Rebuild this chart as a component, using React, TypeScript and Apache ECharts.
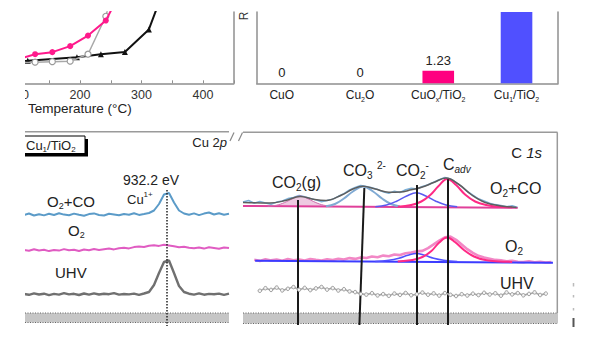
import React, { useEffect, useRef } from 'react';
import * as echarts from 'echarts';

const FONT = '"Liberation Sans", Arial, Helvetica, sans-serif';

// ---------- top-left: conversion vs temperature ----------
const tempPink = [96, 127, 155, 184, 213, 242, 270];
const convPink = [33, 40.8, 43.7, 52.1, 66.9, 88, 135];
const tempGray = [96, 127, 155, 184, 213, 242, 265];
const convGray = [29, 29.6, 30.3, 31, 40.8, 94, 170];
const tempBlack = [85, 115, 195, 234, 273, 312, 340];
const convBlack = [30.5, 31.5, 36.4, 40.8, 44, 75.6, 140];

// ---------- top-right: bars ----------
const barCategories = ['CuO', 'Cu2O', 'CuOx/TiO2', 'Cu1/TiO2'];
const barValues = [0, 0, 1.23, 12];
const barColors = ['#ff0080', '#ff0080', '#ff0080', '#5050ff'];

// ---------- bottom-left: Cu 2p ----------
const eCu = [946.5, 946.0, 945.5, 945.0, 944.5, 944.0, 943.5, 943.0, 942.5, 942.0, 941.5, 941.0, 940.5, 940.0,
  939.5, 939.0, 938.5, 938.0, 937.5, 937.0, 936.5, 936.0, 935.5, 935.0, 934.5, 934.0, 933.5, 933.0, 932.5, 932.0,
  931.5, 931.0, 930.5, 930.0, 929.5, 929.0, 928.5, 928.0, 927.5, 927.0, 926.5, 926.0];
const cuO2CO = [111, 112.5, 110.5, 111.8, 110.6, 112.2, 111, 112.8, 111.4, 110.8, 112.4, 111.2, 110.2, 111.9,
  112.6, 111, 110.5, 112.3, 111.5, 110.7, 112, 111.3, 112.8, 111.1, 112, 113, 115.5, 122, 131.5, 133,
  123.5, 115.5, 112.5, 111.2, 112.6, 110.9, 112.4, 113.5, 111.5, 112.8, 111.3, 112.2];
const cuO2 = [76, 75.2, 76.8, 75.5, 76.3, 74.9, 76, 75.4, 76.9, 75.7, 76.2, 75, 76.5, 75.8,
  76.9, 76.1, 76.8, 77.4, 76.6, 77.8, 78.3, 77.6, 78.9, 79.6, 79.1, 80.2, 80.8, 80.1, 81.3, 80.6,
  79.7, 78.8, 79.3, 78.2, 77.7, 78.5, 77.4, 78.7, 78, 77.3, 78.5, 77.9];
const cuUHV = [32, 31.2, 32.6, 31.5, 32.3, 30.9, 32.1, 31.4, 32.8, 31.6, 32.2, 31, 32.5, 31.3,
  32.7, 31.5, 32.3, 31.8, 32.9, 31.4, 32, 31.6, 32.4, 31.2, 32.5, 34, 41, 53, 64, 65.5,
  53, 40, 34, 32.3, 31.4, 32.6, 31.3, 32.1, 31.7, 32.4, 31.2, 32.3];
const cuPeakEV = 932.2;

// ---------- bottom-right: C 1s ----------
const eC = [294, 293.75, 293.5, 293.25, 293, 292.75, 292.5, 292.25, 292, 291.75, 291.5, 291.25, 291, 290.75,
  290.5, 290.25, 290, 289.75, 289.5, 289.25, 289, 288.75, 288.5, 288.25, 288, 287.75, 287.5, 287.25, 287,
  286.75, 286.5, 286.25, 286, 285.75, 285.5, 285.25, 285, 284.75, 284.5, 284.25, 284, 283.75, 283.5, 283.25,
  283, 282.75, 282.5, 282.25, 282, 281.75, 281.5, 281.25, 281, 280.75, 280.5, 280.25, 280];
const cRawO2CO = [124, 125.5, 122.8, 124.6, 123, 121.8, 123.9, 125, 127.4, 128.6, 130.5, 129.2, 127.6, 126.1,
  124.3, 125.5, 126.8, 129.7, 132.4, 136, 138.5, 140.6, 139.4, 138.2, 136.5, 134.1, 132.6, 134.8, 133.5,
  136.2, 137.8, 137, 139.5, 141.2, 143.8, 146.2, 148.5, 147, 143.5, 139.5, 134.6, 130.8, 127.2, 125.1,
  122.9, 121.4, 120.6, 119.2, 120.3, 118.6, null, null, null, null, null, null, null];
const cRawO2 = [null, null, 66.2, 65.1, 66.8, 65.6, 66.4, 65.3, 66.9, 65.8, 66.5, 65.4, 67, 66.1,
  65.5, 66.8, 66, 67.2, 66.4, 67.9, 67.1, 68.6, 68, 69.5, 68.8, 70.4, 69.7, 71.5, 70.9,
  72.8, 73.5, 74.6, 75.1, 77.9, 81.6, 85.4, 88.6, 89.4, 86.2, 81.5, 76.8, 73.1, 70.2, 68.4,
  67.3, 66.1, 65.6, 64.8, 65.2, 64.1, 63.9, 64.6, 63.7, 64.2, 63.5, 63.9, null];
const cUHV = [null, null, null, 35.2, 37.8, 36.1, 38.4, 35.6, 37.2, 38.9, 36.3, 38.1, 35.9, 37.6,
  39, 36.4, 37.9, 35.5, 36.8, 34.6, 33.9, 32.1, 31.4, 32.8, 30.6, 31.9, 30.2, 32.4, 31.1,
  33, 30.8, 31.7, 33.4, 31.3, 32.6, 30.4, 32.9, 31.2, 30, 31.8, 30.5, 32.3, 30.9, 33.2,
  31.5, 32.7, 30.3, 33.5, 31.6, 32.9, 30.7, 32.1, 33.6, 31, 32.4, null, null];

// fitted components, O2+CO
const baseCoE = [294, 281.75];
const baseCoV = [120, 118.3];
const co2gE = [292.9, 292.5, 292.15, 291.8, 291.46, 291.1, 290.75, 290.4, 290.0];
const co2gV = [119.7, 120.8, 123.4, 127.2, 130, 127.2, 123.4, 120.8, 119.7];
const co3E = [290.3, 289.9, 289.5, 289.1, 288.65, 288.2, 287.8, 287.4, 287.0];
const co3V = [119.8, 122, 127.5, 134.5, 139.5, 134.5, 127.5, 122, 119.5];
const co2mE = [288.1, 287.6, 287.15, 286.7, 286.27, 285.85, 285.4, 284.95, 284.45];
const co2mV = [119.3, 121, 124.8, 130, 133.3, 130, 124.8, 121, 119.2];
const cadvE = [287.1, 286.5, 286.05, 285.65, 285.28, 284.9, 284.5, 284.1, 283.65, 283.15, 282.6, 282.0];
const cadvV = [119.3, 121, 124.5, 131, 140, 147, 141, 131.5, 124.5, 121, 119.3, 118.7];
const envE = [294, 292.8, 292.1, 291.45, 290.8, 290.3, 289.6, 289.1, 288.65, 288.1, 287.5, 287.0, 286.5,
  286.0, 285.5, 284.95, 284.4, 283.8, 283.2, 282.5, 281.8];
const envV = [123.5, 123, 125.5, 129.5, 126.5, 125.5, 131, 137, 139.8, 137, 133.8, 134, 136.2,
  139, 143.5, 148, 142, 131, 123.5, 120, 118.6];
// fitted components, O2
const baseO2E = [293.46, 280.18];
const baseO2V = [65.3, 63.3];
const o2co2mE = [288.1, 287.5, 287.05, 286.65, 286.27, 285.9, 285.5, 285.05, 284.45];
const o2co2mV = [64.6, 65.8, 67.8, 70.7, 72.6, 70.7, 67.8, 65.8, 64.4];
const o2cadvE = [287.1, 286.45, 286.0, 285.6, 285.25, 284.9, 284.55, 284.15, 283.7, 283.2, 282.6, 282.0];
const o2cadvV = [64.6, 66, 69, 75, 83.5, 88.5, 84, 76, 69.5, 66, 64.6, 64.1];
// annotation lines [E top, value top, E bottom, value bottom]
const peakLines = [
  [291.57, 126, 291.57, 1],
  [288.59, 138, 288.81, 1],
  [286.25, 141, 286.25, 1],
  [284.87, 146.7, 284.87, 1],
];

const zip = (xs: number[], ys: (number | null)[]) => xs.map((x, i) => [x, ys[i]]);

const toRich = (s: string) =>
  ('{a|' + s.replace(/([A-Za-z])([0-9x])/g, '$1}{s|$2}{a|') + '}').replace('{a|}', '');

function rich(fs: number) {
  const base = { fontFamily: FONT, fill: '#222', color: '#222' };
  const sm = Math.round(fs * 0.62);
  return {
    a: { ...base, fontSize: fs, lineHeight: fs + 4 },
    i: { ...base, fontSize: fs, lineHeight: fs + 4, fontStyle: 'italic' },
    s: { ...base, fontSize: sm, lineHeight: sm, verticalAlign: 'bottom' },
    si: { ...base, fontSize: sm, lineHeight: sm, verticalAlign: 'bottom', fontStyle: 'italic' },
    u: { ...base, fontSize: sm, lineHeight: sm, verticalAlign: 'top' },
  };
}

const txt = (x: number, y: number, text: string, fs: number, align = 'left') => ({
  type: 'text', x, y, z: 50,
  style: { text, fontSize: fs, fontFamily: FONT, fill: '#222', align, verticalAlign: 'middle', rich: rich(fs) },
});
const gl = (x1: number, y1: number, x2: number, y2: number, stroke: string, lw: number, dash?: number[]) => ({
  type: 'line', z: 5, shape: { x1, y1, x2, y2 }, style: { stroke, lineWidth: lw, lineDash: dash },
});
const rect = (x: number, y: number, width: number, height: number, fill: string, z: number, stroke?: string) => ({
  type: 'rect', z, shape: { x, y, width, height }, style: { fill, stroke, lineWidth: stroke ? 1 : 0 },
});

const AX = '#8f8f8f';
const hiddenY = (gridIndex: number, max: number) => ({
  type: 'value', gridIndex, min: 0, max, show: false, splitLine: { show: false },
});
const frameY = (gridIndex: number, max: number, position: string) => ({
  type: 'value', gridIndex, position, min: 0, max,
  axisLine: { show: true, onZero: false, lineStyle: { color: AX, width: 1.5 } },
  axisTick: { show: false }, axisLabel: { show: false }, splitLine: { show: false },
});

function buildOption(): any {
  const spec = (data: any[], color: string, width: number, extra: any = {}) => ({
    type: 'line', data, symbol: 'none', lineStyle: { color, width }, itemStyle: { color }, ...extra,
  });
  const cu = { xAxisIndex: 2, yAxisIndex: 4 };
  const c1 = { xAxisIndex: 3, yAxisIndex: 5 };
  return {
    animation: false,
    grid: [
      { left: 18.5, top: 12, width: 215.25, height: 71.3 },
      { left: 256.7, top: 12, width: 301.3, height: 71.3 },
      { left: 25, top: 132, width: 204, height: 194 },
      { left: 243, top: 132, width: 314, height: 194 },
    ],
    xAxis: [
      {
        type: 'value', gridIndex: 0, min: 100, max: 450, interval: 50,
        axisLine: { onZero: false, lineStyle: { color: AX, width: 1.5 } },
        axisTick: { inside: true, length: 3, lineStyle: { color: AX } },
        axisLabel: {
          margin: 5, fontSize: 12.5, color: '#333', fontFamily: FONT,
          formatter: (v: number) => (v % 100 === 0 && v < 450 ? String(v) : ''),
        },
        splitLine: { show: false },
      },
      {
        type: 'value', gridIndex: 1, min: -0.32, max: 3.53,
        axisLine: { onZero: false, lineStyle: { color: AX, width: 1.5 } },
        axisTick: { show: false },
        splitLine: { show: false },
        axisLabel: {
          customValues: [0, 1, 2, 3], margin: 4,
          formatter: (v: number) => toRich(barCategories[Math.round(v)] || ''),
          rich: rich(12),
        },
      },
      { type: 'value', gridIndex: 2, min: 926, max: 946.4, inverse: true, show: false, splitLine: { show: false } },
      { type: 'value', gridIndex: 3, min: 280, max: 294, inverse: true, show: false, splitLine: { show: false } },
    ],
    yAxis: [
      hiddenY(0, 100),
      frameY(0, 100, 'right'),
      frameY(1, 7, 'left'),
      frameY(1, 7, 'right'),
      hiddenY(2, 194),
      hiddenY(3, 194),
    ],
    series: [
      // top-left
      {
        type: 'line', xAxisIndex: 0, yAxisIndex: 0, data: zip(tempBlack, convBlack), z: 2,
        symbol: 'triangle', symbolSize: 6, lineStyle: { color: '#111', width: 2 }, itemStyle: { color: '#111' },
      },
      {
        type: 'line', xAxisIndex: 0, yAxisIndex: 0, data: zip(tempGray, convGray), z: 3,
        symbol: 'circle', symbolSize: 6, lineStyle: { color: '#a8a8a8', width: 1.5 },
        itemStyle: { color: '#fff', borderColor: '#9a9a9a', borderWidth: 1.2 },
      },
      {
        type: 'line', xAxisIndex: 0, yAxisIndex: 0, data: zip(tempPink, convPink), z: 4,
        symbol: 'circle', symbolSize: 6, lineStyle: { color: '#ff1a8c', width: 2 }, itemStyle: { color: '#ff1a8c' },
      },
      // top-right bars
      {
        type: 'bar', xAxisIndex: 1, yAxisIndex: 2, barWidth: 31.6,
        data: barValues.map((v, i) => ({
          value: [i, v],
          itemStyle: { color: barColors[i] },
          label: { show: v < 7 },
        })),
        label: {
          show: true, position: 'top', distance: 4, fontSize: 13, color: '#222', fontFamily: FONT,
          formatter: (p: any) => String(p.value[1]),
        },
      },
      // Cu 2p
      spec(zip(eCu, cuO2CO), '#5b9bc8', 2, cu),
      spec(zip(eCu, cuO2), '#e05cc2', 2, cu),
      spec(zip(eCu, cuUHV), '#707070', 2.4, {
        ...cu,
        markLine: {
          silent: true, symbol: ['none', 'none'], label: { show: false },
          lineStyle: { color: '#222', width: 1.5, type: 'dotted' },
          data: [[{ coord: [cuPeakEV, 136] }, { coord: [cuPeakEV, 0] }]],
        },
      }),
      // C 1s, O2+CO
      spec(zip(eC, cRawO2CO), '#7db1d9', 1.5, c1),
      spec(zip(baseCoE, baseCoV), '#e0409a', 2, c1),
      spec(zip(co2gE, co2gV), '#d070b0', 1, {
        ...c1, smooth: 0.4,
        areaStyle: { color: 'rgba(214,128,184,0.6)', origin: 119.6 },
      }),
      spec(zip(co3E, co3V), '#80aad3', 2, { ...c1, smooth: 0.4 }),
      spec(zip(co2mE, co2mV), '#5a5af0', 1.5, { ...c1, smooth: 0.4 }),
      spec(zip(cadvE, cadvV), '#ff2a85', 2, { ...c1, smooth: 0.4 }),
      spec(zip(envE, envV), '#5e5e5e', 1.5, { ...c1, smooth: 0.4 }),
      // C 1s, O2
      spec(zip(eC, cRawO2), '#f288c6', 2.6, c1),
      spec(zip(baseO2E, baseO2V), '#3c3cff', 2, c1),
      spec(zip(o2co2mE, o2co2mV), '#5050ff', 1.5, { ...c1, smooth: 0.4 }),
      spec(zip(o2cadvE, o2cadvV), '#ff2a85', 2, { ...c1, smooth: 0.4 }),
      // C 1s, UHV + peak lines
      {
        type: 'line', ...c1, data: zip(eC, cUHV), z: 10,
        symbol: 'circle', symbolSize: 3.5, lineStyle: { color: '#a8a8a8', width: 1.6 },
        itemStyle: { color: '#f4f4f4', borderColor: '#999', borderWidth: 1 },
        markLine: {
          silent: true, symbol: ['none', 'none'], label: { show: false },
          lineStyle: { color: '#1a1a1a', width: 2, type: 'solid' },
          data: peakLines.map((l) => [{ coord: [l[0], l[1]] }, { coord: [l[2], l[3]] }]),
        },
      },
    ],
    graphic: {
      elements: [
        // left crop
        rect(0, 0, 25, 338, '#fff', 100),
        // partial axis title of the bar chart
        { type: 'text', x: 244, y: 16, rotation: Math.PI / 2, z: 50,
          style: { text: 'R', fontSize: 12, fontFamily: FONT, fill: '#333', align: 'center', verticalAlign: 'middle' } },
        rect(236, 0, 16, 12.3, '#fff', 60),
        // frames
        gl(25, 131.7, 229, 131.7, '#9a9a9a', 1.5),
        gl(230, 141, 234, 132.5, '#888', 1.2),
        gl(238.5, 141, 242.5, 132.5, '#888', 1.2),
        gl(243, 132.3, 557.5, 132.3, '#9a9a9a', 1.5),
        gl(557.3, 132.3, 557.3, 313, '#9a9a9a', 1.5),
        // axis bands
        rect(25, 313, 204, 9.5, '#c6c6c6', 1),
        gl(25, 313, 229, 313, '#666', 1, [1, 1.5]),
        gl(25, 322.5, 229, 322.5, '#666', 1, [1, 1.5]),
        rect(243, 313, 315, 10.5, '#c6c6c6', 1),
        gl(243, 313, 558, 313, '#666', 1, [1, 1.5]),
        gl(243, 323.5, 558, 323.5, '#666', 1, [1, 1.5]),
        // legend box
        rect(23, 139, 65, 17.5, '#000', 20),
        rect(20, 136, 65, 17.5, '#fff', 21, '#000'),
        // right-edge fragments
        gl(573.5, 283, 573.5, 286.5, '#bbb', 1.5),
        gl(573.5, 295, 573.5, 297.5, '#bbb', 1.5),
        gl(573.5, 308, 573.5, 310.5, '#bbb', 1.5),
        gl(573.5, 318, 573.5, 327, '#555', 2),
        // texts
        txt(28, 108, '{a|Temperature (°C)}', 13.5),
        txt(26, 145, '{a|Cu}{s|1}{a|/TiO}{s|2}', 13),
        txt(227, 142, '{a|Cu 2}{i|p}', 13, 'right'),
        txt(151, 180, '{a|932.2 eV}', 14, 'center'),
        txt(127, 199, '{a|Cu}{u|1+}', 13),
        txt(47, 201, '{a|O}{s|2}{a|+CO}', 15),
        txt(68, 230, '{a|O}{s|2}', 15),
        txt(55, 272, '{a|UHV}', 15),
        txt(542, 152, '{a|C }{i|1s}', 15, 'right'),
        txt(272, 182, '{a|CO}{s|2}{a|(g)}', 16),
        txt(343, 170, '{a|CO}{s|3}{a| }{u|2-}', 16),
        txt(396, 170, '{a|CO}{s|2}{u|-}', 16),
        txt(443, 164, '{a|C}{si|adv}', 16),
        txt(490, 188, '{a|O}{s|2}{a|+CO}', 16),
        txt(505, 246, '{a|O}{s|2}', 16),
        txt(500, 283, '{a|UHV}', 16),
      ],
    },
  };
}

export default function App() {
  const ref = useRef<HTMLDivElement>(null);
  useEffect(() => {
    document.body.style.margin = '0';
    const chart = echarts.init(ref.current as HTMLDivElement, null, { renderer: 'svg' });
    chart.setOption(buildOption());
    return () => chart.dispose();
  }, []);
  return <div ref={ref} style={{ width: 600, height: 338 }} />;
}
